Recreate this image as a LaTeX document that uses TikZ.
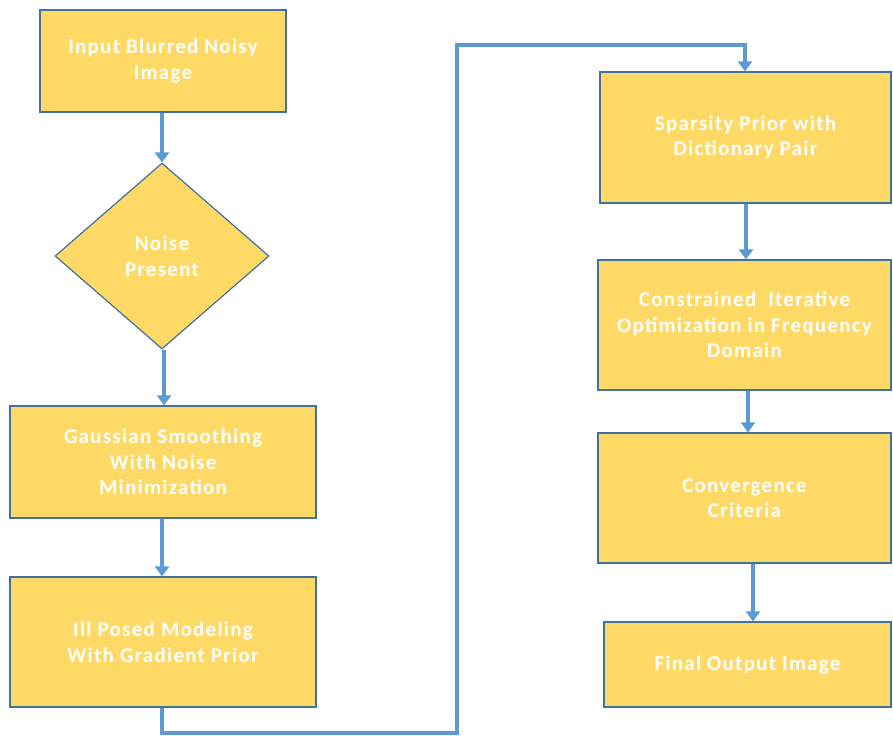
\documentclass[tikz,border=0pt]{standalone}
\usepackage{fontspec}
\setmainfont{Carlito}[LetterSpace=6]
\usetikzlibrary{shapes.geometric,arrows.meta}
\definecolor{boxfill}{HTML}{FFD966}
\definecolor{boxline}{HTML}{41719C}
\definecolor{arrowblue}{HTML}{5B9BD5}
\tikzset{
  flowbox/.style={draw=boxline, line width=1.2pt, fill=boxfill, text=white, font=\bfseries\fontsize{21}{25.5}\selectfont, align=center, inner sep=0pt},
  decision/.style={diamond, draw=boxline, line width=1.2pt, fill=boxfill, text=white, font=\bfseries\fontsize{21}{25.5}\selectfont, align=center, inner sep=0pt, aspect=1.15},
  flowarrow/.style={draw=arrowblue, line width=4pt, -{Triangle[width=14pt,length=10pt]}}
}
\begin{document}
\begin{tikzpicture}[x=1pt,y=-1pt]
\useasboundingbox (0,0) rectangle (893,737);
\node[flowbox, minimum width=246pt, minimum height=102pt] (b1) at (163,61) {Input Blurred Noisy\\Image};
\node[decision, minimum width=214pt, minimum height=186pt] (d1) at (162,256) {Noise\\Present};
\node[flowbox, minimum width=306pt, minimum height=112pt] (b3) at (163,462) {Gaussian Smoothing\\With Noise\\Minimization};
\node[flowbox, minimum width=306pt, minimum height=130pt] (b4) at (163,642) {Ill Posed Modeling\\With Gradient Prior};
\node[flowbox, minimum width=291pt, minimum height=131pt] (b5) at (745.5,137.5) {Sparsity Prior with\\Dictionary Pair};
\node[flowbox, minimum width=293pt, minimum height=130pt] (b6) at (744.5,325) {Constrained\ \ Iterative\\Optimization in Frequency\\Domain};
\node[flowbox, minimum width=293pt, minimum height=130pt] (b7) at (744.5,498) {Convergence\\Criteria};
\node[flowbox, minimum width=287pt, minimum height=85pt] (b8) at (747.5,664.5) {Final Output Image};
\coordinate (c1) at (162,733);
\coordinate (c2) at (457,733);
\coordinate (c3) at (457,45);
\coordinate (c4) at (745,45);
\draw[flowarrow] (b1.south -| 162,0) -- (d1.north);
\draw[flowarrow] (d1.south -| 164,0) -- (b3.north -| 164,0);
\draw[flowarrow] (b3.south -| 162,0) -- (b4.north -| 162,0);
\draw[flowarrow] (b4.south -| 162,0) -- (c1) -- (c2) -- (c3) -- (c4) -- (b5.north -| 745,0);
\draw[flowarrow] (b5.south -| 746,0) -- (b6.north -| 746,0);
\draw[flowarrow] (b6.south -| 748,0) -- (b7.north -| 748,0);
\draw[flowarrow] (b7.south -| 753,0) -- (b8.north -| 753,0);
\end{tikzpicture}
\end{document}
